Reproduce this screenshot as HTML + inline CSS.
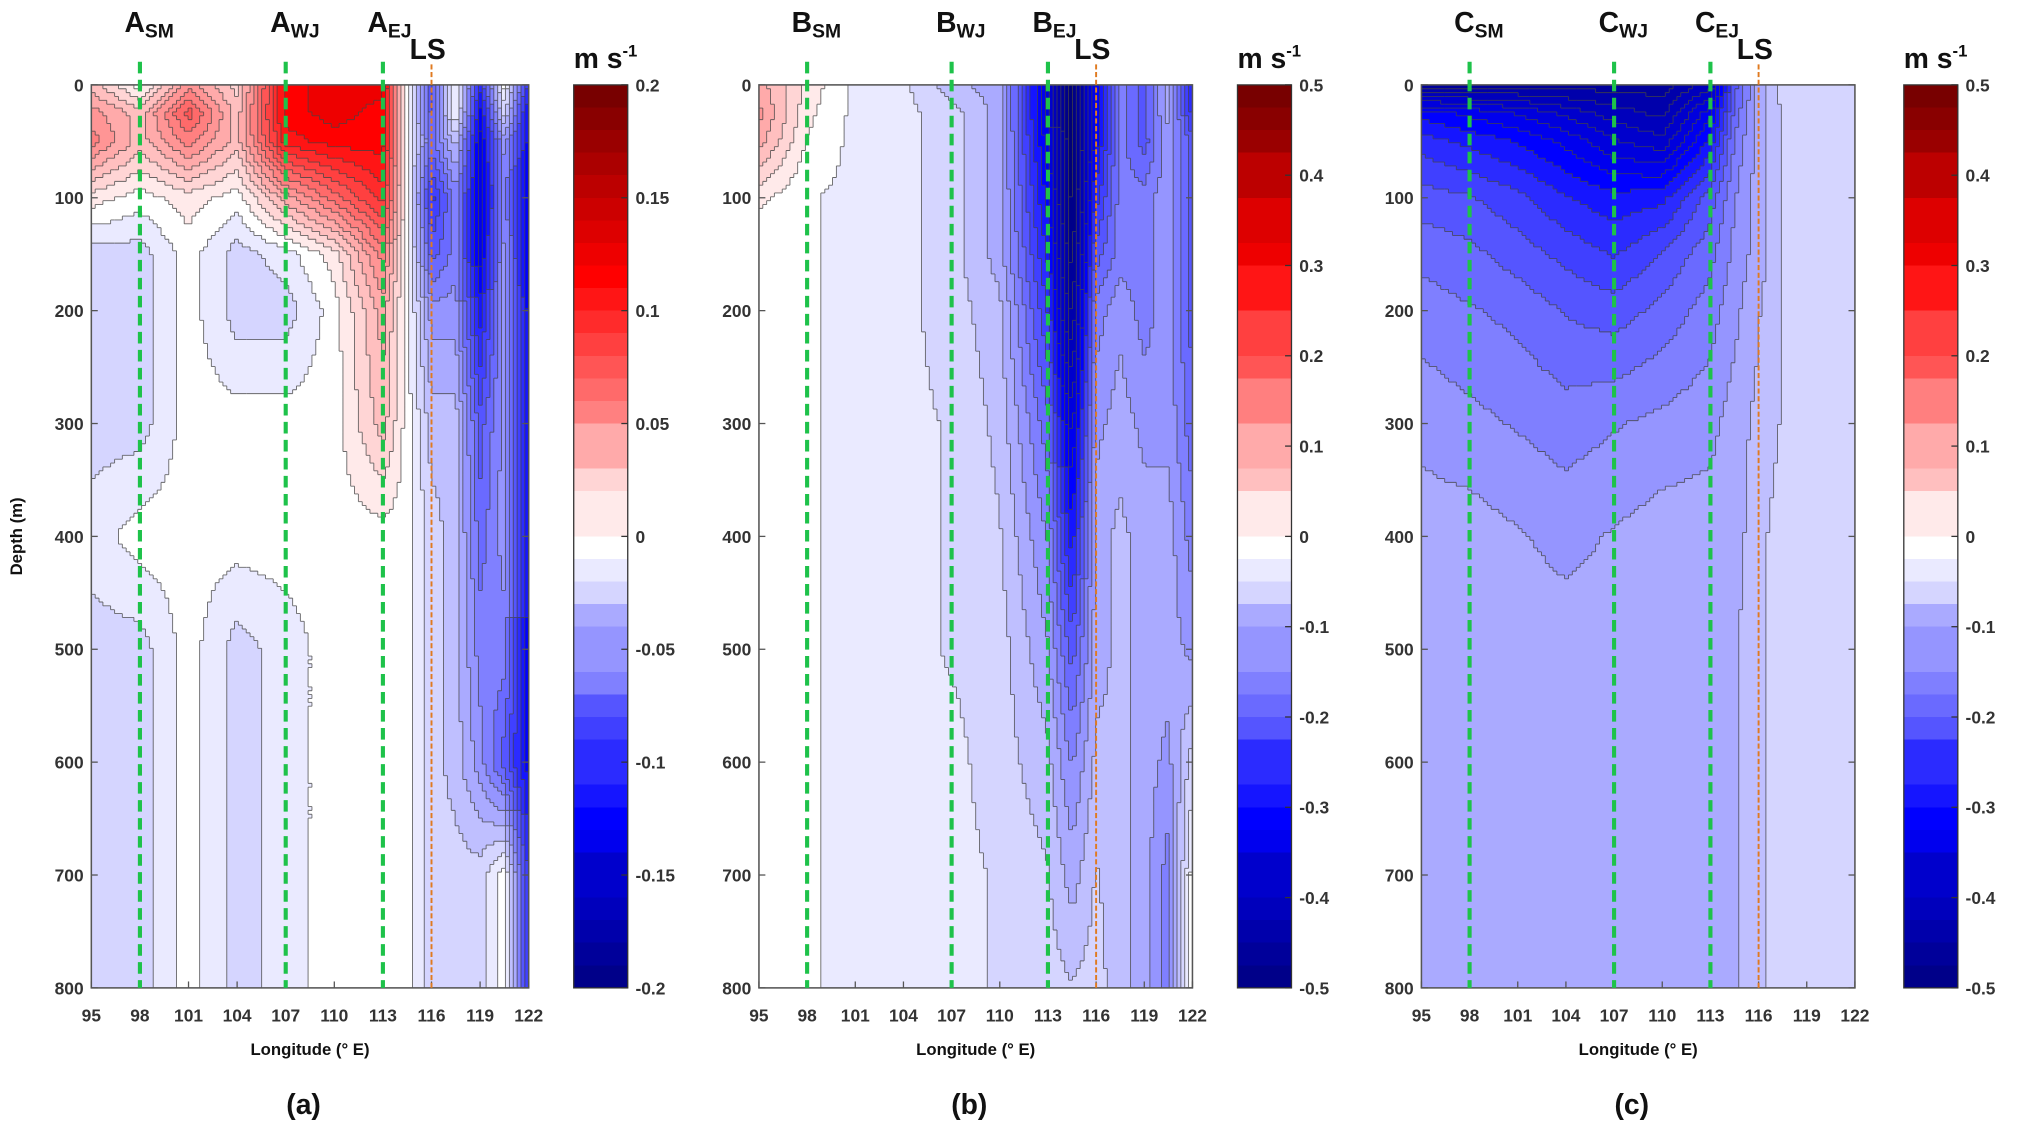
<!DOCTYPE html>
<html><head><meta charset="utf-8"><title>Zonal velocity sections</title>
<style>
html,body{margin:0;padding:0;background:#fff;}
svg{display:block;}
text{font-family:"Liberation Sans",Arial,sans-serif;}
.tk{font-size:13.5px;font-weight:bold;fill:#333;}
.ttl{font-size:22px;font-weight:bold;fill:#111;}
.sub{font-size:13px;font-weight:bold;fill:#111;}
</style></head>
<body>
<svg id="fig" width="2017" height="1129" viewBox="0 0 1568 877.7" preserveAspectRatio="none" xmlns="http://www.w3.org/2000/svg"></svg>
<script>
// ---- data ----
const lons = [95,98,101,104,107,110,113,114.5,116,117.5,119,120.5,122];
const depths = [0,25,50,100,150,200,300,400,500,600,700,800];
const lonTicks = [95,98,101,104,107,110,113,116,119,122];
const depthTicks = [0,100,200,300,400,500,600,700,800];
const markerLons = [98,107,113];
const lsLon = 116;
const cbTicksA = [0.2,0.15,0.1,0.05,0,-0.05,-0.1,-0.15,-0.2];
const cbTicksBC = [0.5,0.4,0.3,0.2,0.1,0,-0.1,-0.2,-0.3,-0.4,-0.5];
const valuesA = [
 [0.03,0.0,0.05,0.02,0.12,0.13,0.13,0.0,-0.08,0.0,-0.1,0.0,-0.1],
 [0.05,0.03,0.08,0.03,0.12,0.13,0.12,0.0,-0.08,0.0,-0.12,-0.02,-0.12],
 [0.06,0.03,0.06,0.03,0.11,0.12,0.12,0.0,-0.07,-0.03,-0.13,-0.05,-0.12],
 [0.01,0.0,0.01,0.0,0.04,0.07,0.1,0.0,-0.1,-0.06,-0.13,-0.06,-0.13],
 [-0.02,-0.02,0,-0.02,-0.01,0.01,0.06,0.0,-0.08,-0.06,-0.13,-0.05,-0.13],
 [-0.02,-0.02,0,-0.02,-0.02,0.0,0.04,0.0,-0.05,-0.05,-0.11,-0.05,-0.12],
 [-0.02,-0.02,0,0,0,0,0.03,0,-0.03,-0.03,-0.08,-0.05,-0.12],
 [-0.01,0,0,0,0,0,0.0,0,-0.02,-0.03,-0.07,-0.05,-0.12],
 [-0.02,-0.02,0,-0.02,-0.01,0,0,0,-0.02,-0.03,-0.06,-0.06,-0.12],
 [-0.02,-0.02,0,-0.02,-0.01,0,0,0,-0.02,-0.03,-0.05,-0.08,-0.12],
 [-0.02,-0.02,0,-0.02,-0.01,0,0,0,-0.02,-0.02,-0.02,0,-0.1],
 [-0.02,-0.02,0,-0.02,-0.01,0,0,0,-0.02,-0.02,-0.02,0,-0.1]
];
const valuesB = [
 [0.1,0.03,-0.02,-0.03,-0.08,-0.1,-0.35,-0.5,-0.3,-0.15,-0.2,-0.1,-0.25],
 [0.12,0.02,-0.02,-0.03,-0.05,-0.1,-0.35,-0.5,-0.3,-0.15,-0.2,-0.1,-0.25],
 [0.1,0.01,-0.02,-0.03,-0.05,-0.1,-0.33,-0.5,-0.3,-0.15,-0.2,-0.12,-0.2],
 [0.02,-0.01,-0.02,-0.03,-0.05,-0.1,-0.3,-0.5,-0.25,-0.15,-0.15,-0.12,-0.2],
 [-0.01,-0.01,-0.02,-0.03,-0.05,-0.1,-0.27,-0.48,-0.2,-0.15,-0.15,-0.12,-0.2],
 [-0.01,-0.01,-0.02,-0.03,-0.05,-0.08,-0.24,-0.45,-0.15,-0.12,-0.15,-0.12,-0.2],
 [-0.01,-0.01,-0.02,-0.03,-0.04,-0.07,-0.18,-0.35,-0.12,-0.1,-0.12,-0.12,-0.18],
 [-0.01,-0.01,-0.02,-0.03,-0.04,-0.06,-0.14,-0.28,-0.1,-0.08,-0.1,-0.1,-0.15],
 [-0.01,-0.01,-0.02,-0.03,-0.04,-0.05,-0.11,-0.2,-0.1,-0.08,-0.1,-0.1,-0.12],
 [-0.01,-0.01,-0.02,-0.02,-0.03,-0.05,-0.08,-0.14,-0.08,-0.08,-0.1,-0.12,-0.05],
 [-0.01,-0.01,-0.02,-0.02,-0.03,-0.04,-0.06,-0.1,-0.06,-0.08,-0.1,-0.15,0.0],
 [-0.01,-0.01,-0.02,-0.02,-0.03,-0.04,-0.05,-0.06,-0.05,-0.08,-0.1,-0.15,0.0]
];
const valuesC = [
 [-0.45,-0.45,-0.45,-0.45,-0.45,-0.45,-0.4,-0.2,-0.1,-0.05,-0.05,-0.05,-0.05],
 [-0.3,-0.32,-0.34,-0.37,-0.4,-0.42,-0.32,-0.18,-0.1,-0.06,-0.05,-0.04,-0.05],
 [-0.25,-0.27,-0.29,-0.32,-0.36,-0.38,-0.28,-0.16,-0.1,-0.06,-0.05,-0.04,-0.05],
 [-0.2,-0.21,-0.23,-0.26,-0.28,-0.27,-0.2,-0.14,-0.1,-0.06,-0.05,-0.04,-0.05],
 [-0.17,-0.18,-0.2,-0.22,-0.24,-0.21,-0.17,-0.13,-0.1,-0.06,-0.05,-0.04,-0.05],
 [-0.15,-0.16,-0.17,-0.19,-0.2,-0.18,-0.15,-0.12,-0.09,-0.06,-0.05,-0.04,-0.05],
 [-0.12,-0.13,-0.14,-0.15,-0.14,-0.13,-0.12,-0.1,-0.08,-0.06,-0.04,-0.05,-0.05],
 [-0.1,-0.1,-0.11,-0.12,-0.11,-0.1,-0.1,-0.1,-0.07,-0.05,-0.04,-0.05,-0.05],
 [-0.1,-0.1,-0.1,-0.1,-0.1,-0.1,-0.1,-0.09,-0.07,-0.05,-0.04,-0.05,-0.05],
 [-0.1,-0.1,-0.1,-0.1,-0.1,-0.1,-0.1,-0.09,-0.07,-0.05,-0.04,-0.05,-0.05],
 [-0.1,-0.1,-0.1,-0.1,-0.1,-0.1,-0.1,-0.09,-0.07,-0.05,-0.04,-0.05,-0.05],
 [-0.1,-0.1,-0.1,-0.1,-0.1,-0.1,-0.1,-0.09,-0.07,-0.05,-0.04,-0.05,-0.05]
];

const NS = "http://www.w3.org/2000/svg";
const svg = document.getElementById('fig');
function mk(tag, attrs, parent){
  const e = document.createElementNS(NS, tag);
  for (const k in attrs) e.setAttribute(k, attrs[k]);
  (parent||svg).appendChild(e); return e;
}
function color(v, max){
  const t = Math.max(-1, Math.min(1, v/max));
  const a = Math.abs(t);
  let c;
  if (a <= 0.6){ const s=a/0.6; c=[255-255*s,255-255*s,255]; }
  else { const s=(a-0.6)/0.4; c=[0,0,255-135*s]; }
  if (t>=0) c=[c[2],c[1],c[0]];
  return 'rgb('+c.map(Math.round).join(',')+')';
}
function interp(vals, lon, dep){
  let i=0; while(i<lons.length-2 && lon>lons[i+1]) i++;
  let j=0; while(j<depths.length-2 && dep>depths[j+1]) j++;
  const fx=(lon-lons[i])/(lons[i+1]-lons[i]);
  const fy=(dep-depths[j])/(depths[j+1]-depths[j]);
  const a=vals[j][i], b=vals[j][i+1], c=vals[j+1][i], d=vals[j+1][i+1];
  return (a*(1-fx)+b*fx)*(1-fy)+(c*(1-fx)+d*fx)*fy;
}
function panel(cfg){
  const {x0,x1,y0,y1,vals,max,letter,cbx,cbTicks,label,tag} = cfg;
  const g = mk('g',{});
  
  
  const xs = lon => x0 + (lon-95)/(122-95)*(x1-x0);
  const ys = d => y0 + d/800*(y1-y0);
  const step = max/20;
  const cw=3, ch=3;
  const nx=Math.round((x1-x0)/cw), ny=Math.round((y1-y0)/ch);
  const W=(x1-x0)/nx, H=(y1-y0)/ny;
  const lev=[];
  const fg = mk('g',{'shape-rendering':'crispEdges'},g);
  
  
  for(let j=0;j<ny;j++){ lev.push([]);
    let runStart=0, runLev=null;
    for(let i=0;i<=nx;i++){
      let L=null;
      if(i<nx){
        const lon=95+(i+0.5)/nx*27, dep=(j+0.5)/ny*800;
        const v=interp(vals,lon,dep);
        L=Math.round(v/step); lev[j].push(L);
      }
      if(L!==runLev){
        if(runLev!==null){
          mk('rect',{x:(x0+runStart*W).toFixed(2),y:(y0+j*H).toFixed(2),width:((i-runStart)*W+0.4).toFixed(2),height:(H+0.4).toFixed(2),fill:color(runLev*step,max)},fg);
        }
        runStart=i; runLev=L;
      }
    }
  }
  let d='';
  for(let j=0;j<ny;j++)for(let i=0;i<nx;i++){
    const X=x0+i*W, Y=y0+j*H;
    if(i<nx-1 && lev[j][i]!==lev[j][i+1]) d+='M'+(X+W).toFixed(1)+' '+Y.toFixed(1)+'v'+H.toFixed(1);
    if(j<ny-1 && lev[j][i]!==lev[j+1][i]) d+='M'+X.toFixed(1)+' '+(Y+H).toFixed(1)+'h'+W.toFixed(1);
  }
  const cl=mk('path',{d:d,stroke:'#444',"stroke-width":0.7,fill:'none','stroke-opacity':0.8},g);
  
  
  const fr=mk('rect',{x:x0,y:y0,width:x1-x0,height:y1-y0,fill:'none',stroke:'#555','stroke-width':1.2},g);
  
  
  depthTicks.forEach(t=>{
    const y=ys(t);
    mk('line',{x1:x0,x2:x0+5,y1:y,y2:y,stroke:'#555'},g);
    mk('line',{x1:x1,x2:x1-5,y1:y,y2:y,stroke:'#555'},g);
    const tx=mk('text',{x:x0-6,y:y+5,'text-anchor':'end',class:'tk'},g);
    tx.textContent=t;
    
    
  });
  lonTicks.forEach(t=>{
    const x=xs(t);
    mk('line',{x1:x,x2:x,y1:y1,y2:y1-5,stroke:'#555'},g);
    const tx=mk('text',{x:x,y:y1+26,'text-anchor':'middle',class:'tk'},g);
    tx.textContent=t;
    
    
  });
  const xl=mk('text',{x:(x0+x1)/2,y:y1+52,'text-anchor':'middle',class:'sub'},g);
  xl.textContent='Longitude (° E)';
  
  
  const pl=mk('text',{x:(x0+x1)/2-5,y:y1+98,'text-anchor':'middle',style:'font-size:22px;font-weight:bold;fill:#111'},g);
  pl.textContent='('+label+')';
  
  
  const subs=['SM','WJ','EJ'];
  markerLons.forEach((m,k)=>{
    const x=xs(m);
    const ln=mk('line',{x1:x,x2:x,y1:y0-18,y2:y1,stroke:'#1ec24a','stroke-width':3.2,'stroke-dasharray':'9,5'},g);
    
    
    const tx=mk('text',{x:x-12,y:y0-41,class:'ttl'},g);
    tx.innerHTML=letter+'<tspan style="font-size:15px" dy="4">'+subs[k]+'</tspan>';
    
    
  });
  const lx=xs(lsLon);
  const ls=mk('line',{x1:lx,x2:lx,y1:y0-16,y2:y1,stroke:'#e07a20','stroke-width':1.5,'stroke-dasharray':'4,2'},g);
  
  
  const lt=mk('text',{x:lx-17,y:y0-20,class:'ttl'},g);
  lt.textContent='LS';
  
  
  const cg=mk('g',{'shape-rendering':'crispEdges'},g);
  
  
  const nb=40, bh=(y1-y0)/nb;
  for(let k=0;k<nb;k++){
    const v=max-(k+0.5)/nb*2*max;
    mk('rect',{x:cbx,y:(y0+k*bh).toFixed(2),width:42,height:(bh+0.5).toFixed(2),fill:color(Math.round(v/step)*step,max)},cg);
  }
  mk('rect',{x:cbx,y:y0,width:42,height:y1-y0,fill:'none',stroke:'#333','stroke-width':1},g);
  cbTicks.forEach(t=>{
    const y=y0+(max-t)/(2*max)*(y1-y0);
    mk('line',{x1:cbx+42,x2:cbx+37,y1:y,y2:y,stroke:'#333'},g);
    const tx=mk('text',{x:cbx+48,y:y+5,class:'tk'},g);
    tx.textContent=t;
    
    
  });
  const un=mk('text',{x:cbx,y:y0-13,class:'ttl'},g);
  un.innerHTML='m s<tspan style="font-size:13px" dy="-9">-1</tspan>';
  
  
}
panel({x0:71,x1:411,y0:66,y1:768,vals:valuesA,max:0.2,letter:'A',cbx:446,cbTicks:cbTicksA,label:'a',tag:'a'});
panel({x0:590,x1:927,y0:66,y1:768,vals:valuesB,max:0.5,letter:'B',cbx:962,cbTicks:cbTicksBC,label:'b',tag:'b'});
panel({x0:1105,x1:1442,y0:66,y1:768,vals:valuesC,max:0.5,letter:'C',cbx:1480,cbTicks:cbTicksBC,label:'c',tag:'c'});
const yt=mk('text',{x:0,y:0,transform:'translate(17,417) rotate(-90)','text-anchor':'middle',class:'sub'});
yt.textContent='Depth (m)';


</script>
</body></html>
